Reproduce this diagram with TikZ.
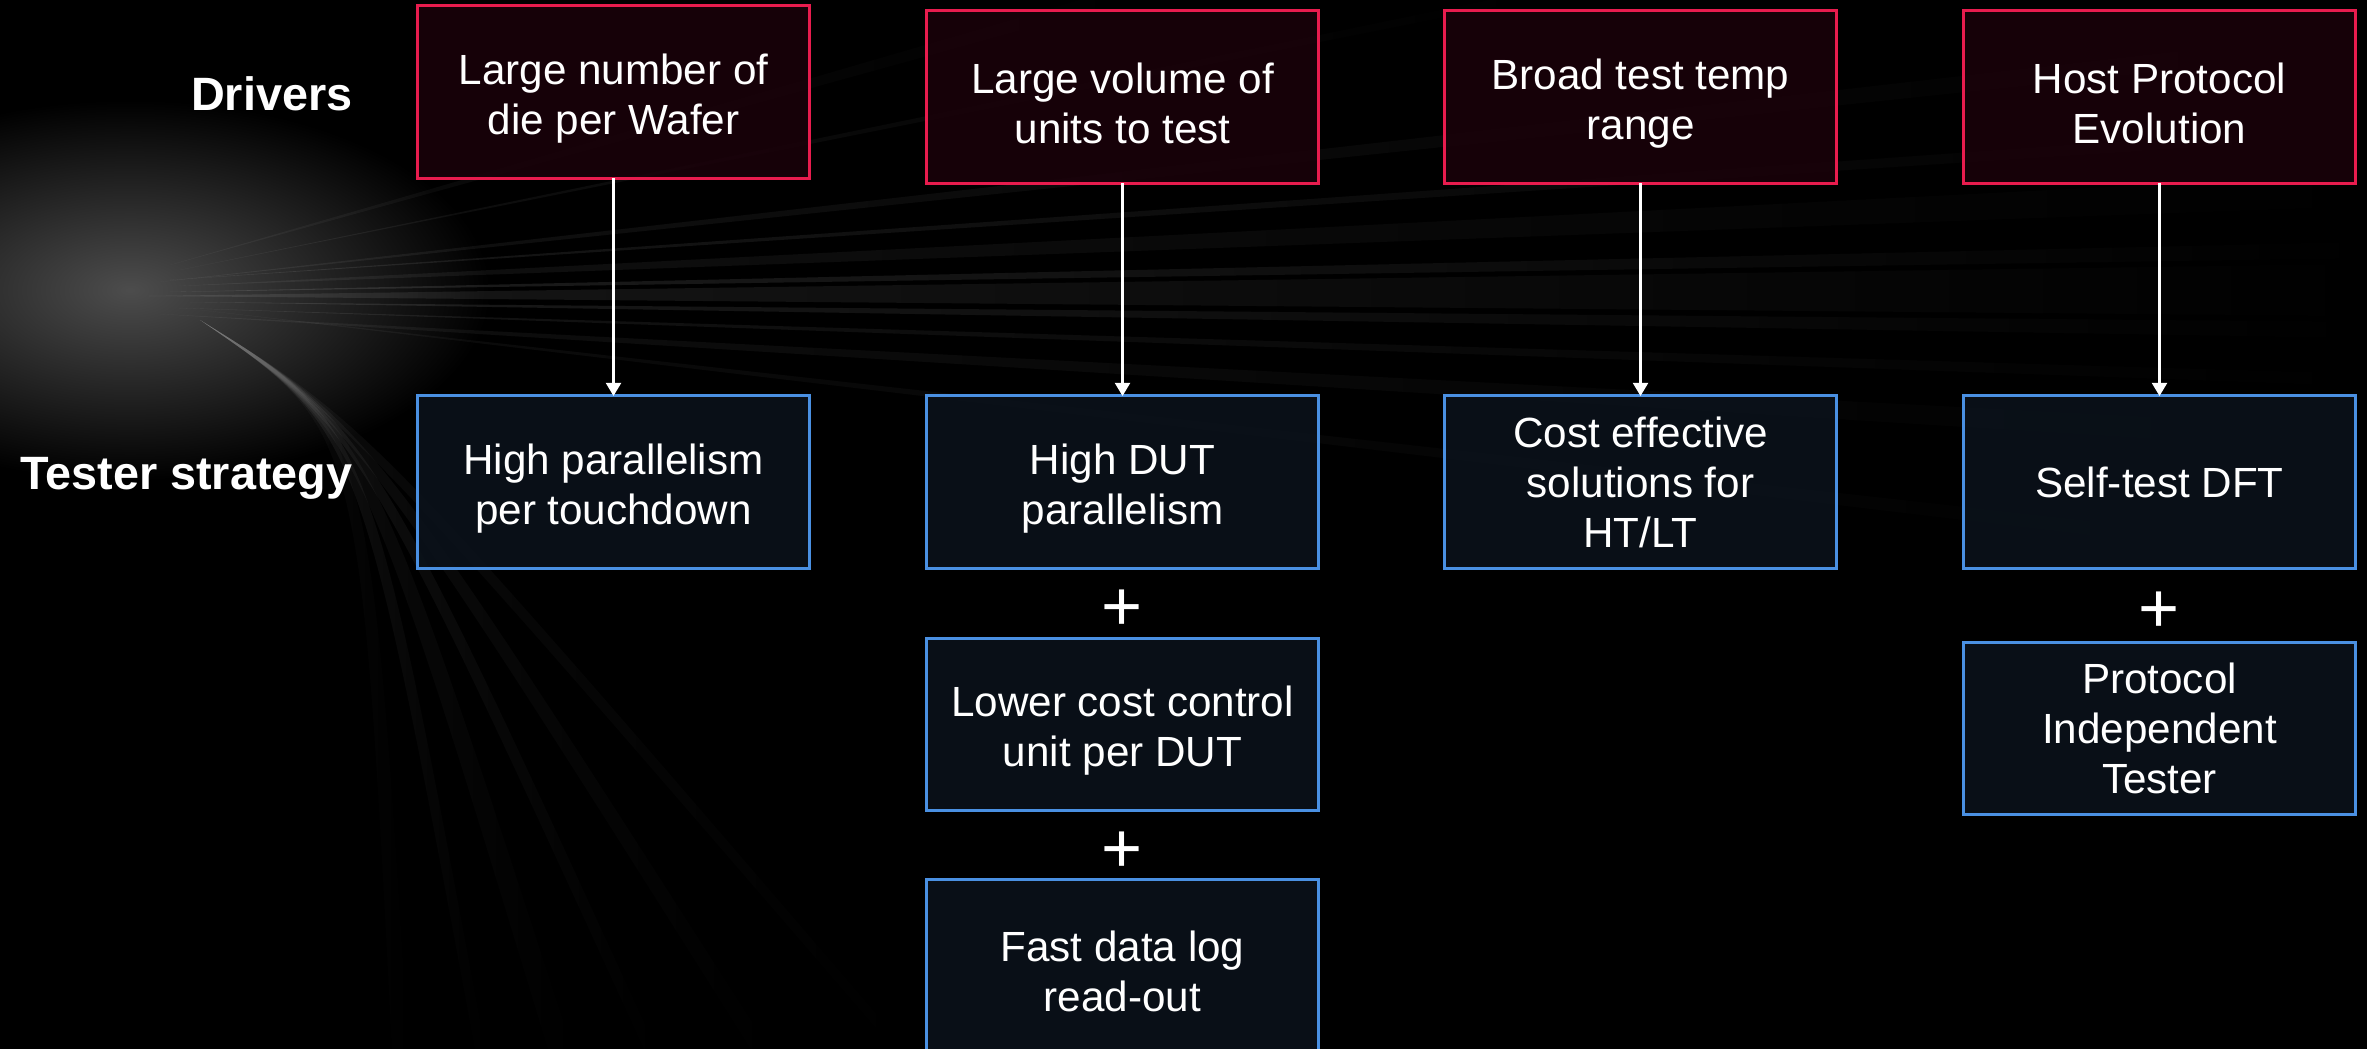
\documentclass[tikz,border=0pt]{standalone}
\usepackage{fontspec}
\setmainfont{Liberation Sans}
\usetikzlibrary{arrows.meta,positioning,calc,fadings}
\definecolor{drvred}{RGB}{232,28,78}
\definecolor{drvfill}{RGB}{26,2,10}
\definecolor{stratblue}{RGB}{74,144,226}
\definecolor{stratfill}{RGB}{11,18,27}
\tikzfading[name=streakfade, left color=transparent!35, right color=transparent!100]
\newcommand{\lift}{\rule{0pt}{12.2pt}}

\begin{document}
\begin{tikzpicture}[x=0.01cm, y=-0.01cm,
                    driver/.style={draw=drvred, line width=0.85pt, fill=drvfill,
                                   fill opacity=0.88, text opacity=1, text=white,
                                   minimum width=3.91cm, minimum height=1.72cm,
                                   align=center, inner sep=0pt, outer sep=0pt,
                                   font=\fontsize{12}{14.2}\selectfont},
                    strategy/.style={driver, draw=stratblue, fill=stratfill},
                    plus/.style={text=white, inner sep=0pt, yshift=-0.07cm,
                                 font=\fontsize{20}{20}\selectfont},
                    rowlabel/.style={text=white, anchor=east, inner sep=0pt,
                                     font=\fontsize{13.3}{16}\selectfont\bfseries},
                    link/.style={white, line width=0.6pt,
                                 -{Triangle[width=0.15cm,length=0.13cm]}},
                    streak/.style={white, path fading=streakfade},
                   ]

\useasboundingbox (0,0) rectangle (2367,1049);

% background
\fill[black] (0,0) rectangle (2367,1049);
\shade[inner color=black!70, outer color=black] (130,290) ellipse [x radius=3.6cm, y radius=1.9cm];
\foreach \sx/\sy/\ey/\w/\op in {160/282/40/10/0.10, 170/280/130/6/0.14, 180/286/190/16/0.10,
                                 170/292/250/8/0.18, 150/296/290/26/0.14, 190/302/330/8/0.16,
                                 180/308/380/6/0.12, 160/314/440/12/0.09, 200/310/560/8/0.07}
  \fill[streak, opacity=\op] (\sx,\sy) -- (2367,\ey-\w) -- (2367,\ey+\w) -- cycle;
\fill[streak, opacity=0.10] (180,270) -- (1490,0) -- (1530,0) -- cycle;
\fill[streak, opacity=0.08] (170,265) -- (1080,0) -- (1130,0) -- cycle;
\foreach \ex/\w/\op in {400/8/0.10, 480/5/0.16, 560/12/0.10, 650/6/0.12, 760/9/0.09, 900/6/0.07}
  \fill[streak, opacity=\op] (200,320) .. controls (360,430) .. (\ex-\w,1049)
                             -- (\ex+\w,1049) .. controls (370,425) .. (200,320) -- cycle;

% row labels
\node[rowlabel] (drivers) at (353,94) {Drivers};
\node[rowlabel] (tester) at (353,478) {Tester strategy};

% drivers
\node[driver] (wafer) at (613.5,92) {\lift Large number of\\die per Wafer};
\node[driver] (volume) at (1122.5,97) {\lift Large volume of\\units to test};
\node[driver] (temp) at (1640.5,97) {\lift Broad test temp\\range};
\node[driver] (proto) at (2159.5,97) {\lift Host Protocol\\Evolution};

% tester strategy
\node[strategy] (touch) at (613.5,482) {\lift High parallelism\\per touchdown};
\node[strategy] (dut) at (1122.5,482) {\lift High DUT\\parallelism};
\node[strategy] (htlt) at (1640.5,482) {Cost effective\\solutions for\\HT/LT};
\node[strategy] (dft) at (2159.5,482) {Self-test DFT};
\node[strategy, below=0.7cm of dut] (ctrl) {\lift Lower cost control\\unit per DUT};
\node[strategy, below=0.69cm of ctrl] (log) {\lift Fast data log\\read-out};
\node[strategy, below=0.74cm of dft] (indep) {Protocol\\Independent\\Tester};

\node[plus] (plusa) at ($(dut.south)!0.5!(ctrl.north)$) {+};
\node[plus] (plusb) at ($(ctrl.south)!0.5!(log.north)$) {+};
\node[plus] (plusc) at ($(dft.south)!0.5!(indep.north)$) {+};

\draw[link] (wafer) -- (touch);
\draw[link] (volume) -- (dut);
\draw[link] (temp) -- (htlt);
\draw[link] (proto) -- (dft);

\end{tikzpicture}
\end{document}
